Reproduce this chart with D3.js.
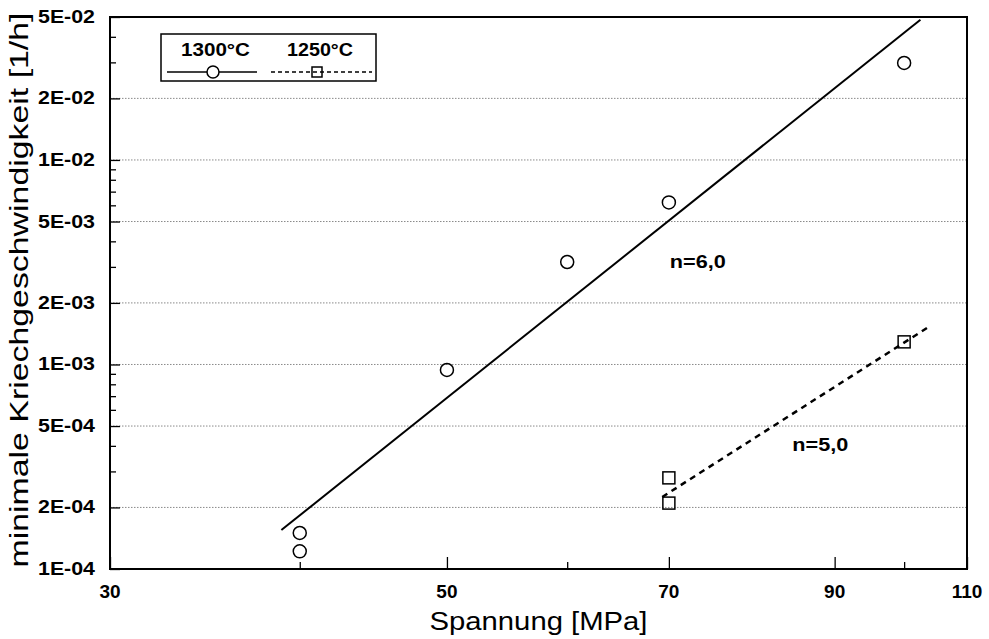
<!DOCTYPE html>
<html>
<head>
<meta charset="utf-8">
<script src="https://cdnjs.cloudflare.com/ajax/libs/d3/7.8.5/d3.min.js"></script>
<style>
  body { margin: 0; background: #fff; }
  svg { display: block; font-family: "Liberation Sans", Arial, sans-serif; }
</style>
</head>
<body>
<svg id="chart" width="989" height="639"></svg>
<script>
// Data
var xDomain = [30, 110];
var yDomain = [1e-4, 5e-2];
var xMajorTicks = [30, 50, 70, 90, 110];
var xMinorTicks = [40, 60, 100];
var yMajorTicks = [1e-4, 2e-4, 5e-4, 1e-3, 2e-3, 5e-3, 1e-2, 2e-2, 5e-2];
var yTickLabels = ["1E-04", "2E-04", "5E-04", "1E-03", "2E-03", "5E-03", "1E-02", "2E-02", "5E-02"];
var yMinorTicks = [3e-4, 4e-4, 6e-4, 7e-4, 8e-4, 9e-4, 3e-3, 4e-3, 6e-3, 7e-3, 8e-3, 9e-3, 3e-2, 4e-2];
var yGridValues = [2e-4, 5e-4, 1e-3, 2e-3, 5e-3, 1e-2, 2e-2];

var series1300 = { label: "1300°C", stress: [40, 40, 50, 60, 70, 100], rate: [1.5e-4, 1.22e-4, 9.4e-4, 3.17e-3, 6.2e-3, 2.98e-2] };
var series1250 = { label: "1250°C", stress: [70, 70, 100], rate: [2.79e-4, 2.1e-4, 1.29e-3] };
var fit1300 = [[38.9, 1.55e-4], [102.5, 4.85e-2]];
var fit1250 = [[69.3, 2.25e-4], [103.7, 1.52e-3]];
var fitLabels = [
  { text: "n=6,0", stress: 70.1, rate: 2.95e-3 },
  { text: "n=5,0", stress: 84.4, rate: 3.77e-4 }
];

var margin = { top: 17, right: 22, bottom: 70, left: 110 };
var svg = d3.select("#chart");
var width = +svg.attr("width") - margin.left - margin.right;
var height = +svg.attr("height") - margin.top - margin.bottom;

var x = d3.scaleLog().domain(xDomain).range([0, width]);
var y = d3.scaleLog().domain(yDomain).range([height, 0]);

var g = svg.append("g").attr("transform", "translate(" + margin.left + "," + margin.top + ")");

// Dotted grid
g.selectAll(".grid")
  .data(yGridValues)
  .enter()
  .append("line")
  .attr("x1", 0)
  .attr("x2", width)
  .attr("y1", function (d) { return y(d); })
  .attr("y2", function (d) { return y(d); })
  .attr("stroke", "#8a8a8a")
  .attr("stroke-width", 1)
  .attr("stroke-dasharray", "1.5,1.5");

// Ticks pointing inward
var xAxisMajor = d3.axisTop(x).tickValues(xMajorTicks).tickSize(12).tickFormat("");
var xAxisMinor = d3.axisTop(x).tickValues(xMinorTicks).tickSize(7).tickFormat("");
var yAxisMajor = d3.axisRight(y).tickValues(yMajorTicks).tickSize(10).tickFormat("");
var yAxisMinor = d3.axisRight(y).tickValues(yMinorTicks).tickSize(6).tickFormat("");

[xAxisMajor, xAxisMinor].forEach(function (ax) {
  g.append("g").attr("transform", "translate(0," + height + ")").call(ax);
});
[yAxisMajor, yAxisMinor].forEach(function (ax) {
  g.append("g").call(ax);
});
g.selectAll(".domain").remove();
g.selectAll(".tick line").attr("stroke", "#000").attr("stroke-width", 1.3);

// Frame
g.append("rect")
  .attr("width", width)
  .attr("height", height)
  .attr("fill", "none")
  .attr("stroke", "#000")
  .attr("stroke-width", 2);

// Tick labels
g.selectAll(".xlabel")
  .data(xMajorTicks)
  .enter()
  .append("text")
  .attr("x", function (d) { return x(d); })
  .attr("y", height + 29)
  .attr("text-anchor", "middle")
  .attr("font-size", 19)
  .attr("font-weight", "bold")
  .text(function (d) { return d; });

g.selectAll(".ylabel")
  .data(yMajorTicks)
  .enter()
  .append("text")
  .attr("x", -15)
  .attr("y", function (d) { return y(d) + 6; })
  .attr("text-anchor", "end")
  .attr("font-size", 18)
  .attr("font-weight", "bold")
  .attr("textLength", 57)
  .attr("lengthAdjust", "spacingAndGlyphs")
  .text(function (d, i) { return yTickLabels[i]; });

// Axis titles
svg.append("text")
  .attr("x", margin.left + width / 2)
  .attr("y", 630)
  .attr("text-anchor", "middle")
  .attr("font-size", 26)
  .attr("textLength", 218)
  .attr("lengthAdjust", "spacingAndGlyphs")
  .text("Spannung [MPa]");

svg.append("text")
  .attr("transform", "translate(28," + (margin.top + height / 2 - 3) + ") rotate(-90)")
  .attr("text-anchor", "middle")
  .attr("font-size", 26)
  .attr("textLength", 555)
  .attr("lengthAdjust", "spacingAndGlyphs")
  .text("minimale Kriechgeschwindigkeit [1/h]");

// Fit lines
var line = d3.line()
  .x(function (d) { return x(d[0]); })
  .y(function (d) { return y(d[1]); });

g.append("path")
  .attr("d", line(fit1300))
  .attr("fill", "none")
  .attr("stroke", "#000")
  .attr("stroke-width", 2);

g.append("path")
  .attr("d", line(fit1250))
  .attr("fill", "none")
  .attr("stroke", "#000")
  .attr("stroke-width", 2.5)
  .attr("stroke-dasharray", "6,5");

// Markers
g.selectAll(".c1300")
  .data(d3.zip(series1300.stress, series1300.rate))
  .enter()
  .append("circle")
  .attr("cx", function (d) { return x(d[0]); })
  .attr("cy", function (d) { return y(d[1]); })
  .attr("r", 6.5)
  .attr("fill", "none")
  .attr("stroke", "#000")
  .attr("stroke-width", 1.5);

g.selectAll(".s1250")
  .data(d3.zip(series1250.stress, series1250.rate))
  .enter()
  .append("rect")
  .attr("x", function (d) { return x(d[0]) - 6; })
  .attr("y", function (d) { return y(d[1]) - 6; })
  .attr("width", 12)
  .attr("height", 12)
  .attr("fill", "none")
  .attr("stroke", "#000")
  .attr("stroke-width", 1.5);

// n labels
g.selectAll(".nlabel")
  .data(fitLabels)
  .enter()
  .append("text")
  .attr("x", function (d) { return x(d.stress); })
  .attr("y", function (d) { return y(d.rate); })
  .attr("font-size", 18)
  .attr("font-weight", "bold")
  .attr("textLength", 56)
  .attr("lengthAdjust", "spacingAndGlyphs")
  .text(function (d) { return d.text; });

// Legend
var legend = svg.append("g").attr("transform", "translate(161,34)");
legend.append("rect")
  .attr("width", 215)
  .attr("height", 47)
  .attr("fill", "#fff")
  .attr("stroke", "#000")
  .attr("stroke-width", 1.5);

legend.append("text")
  .attr("x", 20).attr("y", 22)
  .attr("font-size", 18).attr("font-weight", "bold")
  .attr("textLength", 69).attr("lengthAdjust", "spacingAndGlyphs")
  .text(series1300.label);
legend.append("text")
  .attr("x", 126).attr("y", 22)
  .attr("font-size", 18).attr("font-weight", "bold")
  .attr("textLength", 66).attr("lengthAdjust", "spacingAndGlyphs")
  .text(series1250.label);

legend.append("line")
  .attr("x1", 6).attr("x2", 96).attr("y1", 38).attr("y2", 38)
  .attr("stroke", "#000").attr("stroke-width", 1.5);
legend.append("circle")
  .attr("cx", 52).attr("cy", 38).attr("r", 6)
  .attr("fill", "#fff").attr("stroke", "#000").attr("stroke-width", 1.5);

legend.append("line")
  .attr("x1", 110).attr("x2", 211).attr("y1", 38).attr("y2", 38)
  .attr("stroke", "#000").attr("stroke-width", 1.5)
  .attr("stroke-dasharray", "4,3");
legend.append("rect")
  .attr("x", 151).attr("y", 33).attr("width", 10).attr("height", 10)
  .attr("fill", "none").attr("stroke", "#000").attr("stroke-width", 1.5);
</script>
</body>
</html>
